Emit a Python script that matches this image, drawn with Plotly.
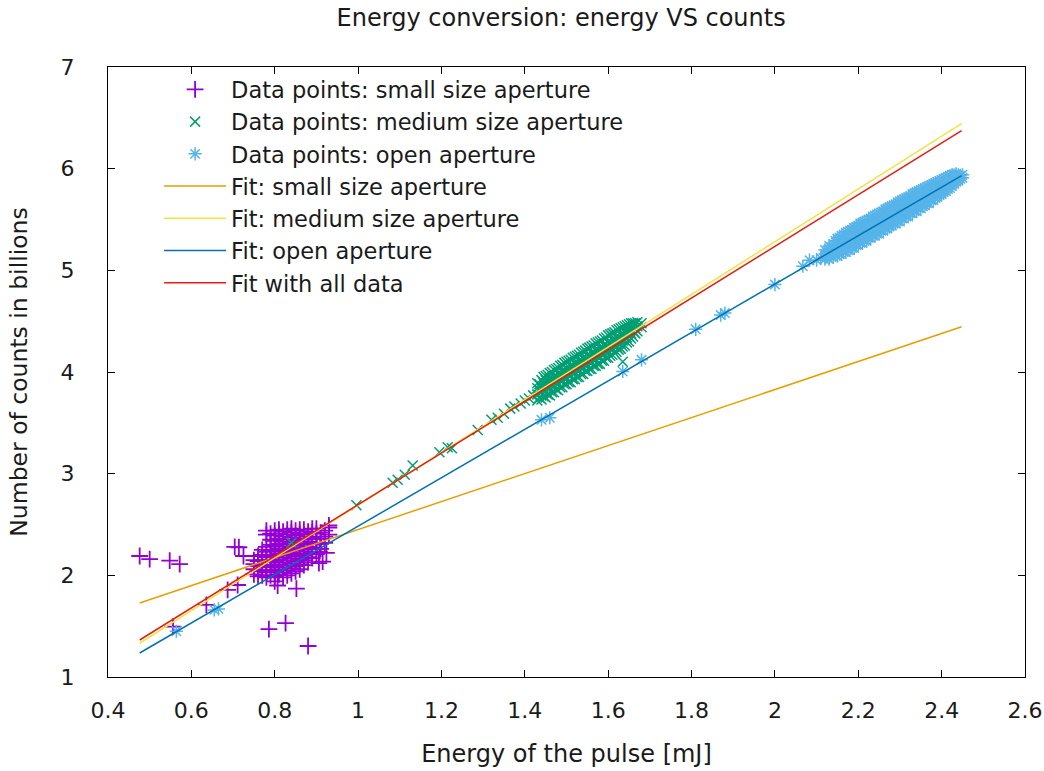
import plotly.graph_objects as go

# ---------------- data ----------------
# small size aperture: scattered points
small_x = [0.476, 0.50, 0.548, 0.572, 0.556, 0.636, 0.687, 0.711, 0.704, 0.714, 0.725,
           0.786, 0.826, 0.88, 0.80, 0.807, 0.852, 0.906, 0.907, 0.915, 0.924, 0.93]
small_y = [2.19, 2.16, 2.145, 2.11, 1.495, 1.71, 1.856, 1.905, 2.28, 2.276, 2.19,
           1.47, 1.53, 1.305, 1.94, 1.90, 1.87, 2.12, 2.23, 2.135, 2.22, 2.49]
# small size aperture: dense cluster, one column of readings per energy value
small_cluster_x = [0.75, 0.76, 0.77, 0.78, 0.79, 0.80, 0.81, 0.82, 0.83, 0.84,
                   0.85, 0.86, 0.87, 0.88, 0.89, 0.90, 0.91, 0.92, 0.93]
small_cluster_y = [
    [2.01, 2.06, 2.11, 2.15],
    [1.99, 2.04, 2.09, 2.14, 2.19],
    [2.00, 2.05, 2.10, 2.15, 2.20, 2.25],
    [1.98, 2.03, 2.08, 2.13, 2.18, 2.23, 2.28, 2.40, 2.44],
    [2.00, 2.05, 2.10, 2.15, 2.20, 2.25, 2.30, 2.35, 2.41],
    [1.99, 2.04, 2.09, 2.14, 2.19, 2.24, 2.29, 2.34, 2.39, 2.44],
    [2.01, 2.06, 2.11, 2.16, 2.21, 2.26, 2.31, 2.36, 2.41, 2.45],
    [1.98, 2.03, 2.08, 2.13, 2.18, 2.23, 2.28, 2.33, 2.38, 2.43],
    [2.00, 2.05, 2.10, 2.15, 2.20, 2.25, 2.30, 2.35, 2.40, 2.45],
    [2.02, 2.07, 2.12, 2.17, 2.22, 2.27, 2.32, 2.37, 2.42, 2.46],
    [2.04, 2.09, 2.14, 2.19, 2.24, 2.29, 2.34, 2.39, 2.44],
    [2.06, 2.11, 2.16, 2.21, 2.26, 2.31, 2.36, 2.41, 2.45],
    [2.10, 2.15, 2.20, 2.25, 2.30, 2.35, 2.40, 2.45],
    [2.13, 2.18, 2.23, 2.28, 2.33, 2.38, 2.43],
    [2.17, 2.22, 2.27, 2.32, 2.37, 2.42, 2.46],
    [2.21, 2.26, 2.31, 2.36, 2.41, 2.46],
    [2.26, 2.31, 2.36, 2.42],
    [2.32, 2.38, 2.44],
    [2.40, 2.47],
]

# medium size aperture
medium_x = [0.84, 0.996, 1.083, 1.095, 1.112, 1.131, 1.195, 1.215, 1.225, 1.287, 1.32,
            1.335, 1.35, 1.365, 1.375, 1.39, 1.40, 1.41, 1.42, 1.635]
medium_y = [2.32, 2.69, 2.91, 2.94, 2.99, 3.08, 3.21, 3.26, 3.25, 3.43, 3.53,
            3.55, 3.59, 3.64, 3.66, 3.69, 3.72, 3.74, 3.77, 4.10]
medium_cluster_x = [1.43, 1.435, 1.44, 1.445, 1.45, 1.455, 1.46, 1.465, 1.47, 1.475,
                    1.48, 1.485, 1.49, 1.495, 1.50, 1.505, 1.51, 1.515, 1.52, 1.525,
                    1.53, 1.535, 1.54, 1.545, 1.55, 1.555, 1.56, 1.565, 1.57, 1.575,
                    1.58, 1.585, 1.59, 1.595, 1.60, 1.605, 1.61, 1.615, 1.62, 1.625,
                    1.63, 1.635, 1.64, 1.645, 1.65, 1.655, 1.66, 1.665, 1.67, 1.68]
medium_cluster_y = [
    [3.72, 3.78, 3.84, 3.89], [3.75, 3.82, 3.88],
    [3.73, 3.80, 3.85, 3.92], [3.76, 3.83, 3.89, 3.95],
    [3.75, 3.81, 3.86, 3.92, 3.96], [3.78, 3.85, 3.90, 3.97],
    [3.77, 3.84, 3.89, 3.94, 3.99], [3.80, 3.87, 3.93, 4.00],
    [3.80, 3.86, 3.91, 3.96, 4.02], [3.83, 3.90, 3.95, 4.03],
    [3.82, 3.88, 3.94, 3.99, 4.04], [3.85, 3.92, 3.97, 4.06],
    [3.85, 3.91, 3.96, 4.01, 4.07], [3.88, 3.94, 4.00, 4.09],
    [3.88, 3.94, 3.99, 4.04, 4.10], [3.90, 3.97, 4.02, 4.11],
    [3.90, 3.96, 4.01, 4.06, 4.12], [3.93, 3.99, 4.05, 4.14],
    [3.93, 3.99, 4.04, 4.09, 4.15], [3.95, 4.02, 4.07, 4.16],
    [3.95, 4.01, 4.06, 4.11, 4.17], [3.98, 4.04, 4.10, 4.19],
    [3.98, 4.04, 4.09, 4.14, 4.20], [4.01, 4.07, 4.12, 4.21],
    [4.01, 4.07, 4.12, 4.17, 4.23], [4.03, 4.10, 4.15, 4.24],
    [4.03, 4.09, 4.14, 4.19, 4.25], [4.06, 4.12, 4.18, 4.26],
    [4.06, 4.12, 4.17, 4.22, 4.28], [4.08, 4.15, 4.20, 4.29],
    [4.08, 4.14, 4.19, 4.24, 4.30], [4.11, 4.17, 4.22, 4.31],
    [4.11, 4.17, 4.22, 4.27, 4.33], [4.14, 4.20, 4.25, 4.34],
    [4.14, 4.20, 4.25, 4.30, 4.36], [4.16, 4.23, 4.28, 4.37],
    [4.17, 4.22, 4.27, 4.32, 4.38], [4.19, 4.25, 4.31, 4.39],
    [4.20, 4.25, 4.30, 4.35, 4.41], [4.22, 4.28, 4.33, 4.42],
    [4.23, 4.28, 4.32, 4.37, 4.43], [4.25, 4.31, 4.36, 4.44],
    [4.26, 4.31, 4.35, 4.40, 4.45], [4.29, 4.34, 4.39, 4.46],
    [4.30, 4.35, 4.39, 4.43, 4.47], [4.33, 4.38, 4.42, 4.48],
    [4.35, 4.40, 4.45, 4.48], [4.38, 4.43, 4.48],
    [4.40, 4.45, 4.49], [4.44, 4.48],
]

# open aperture
open_x = [0.564, 0.655, 0.665, 1.44, 1.46, 1.635, 1.68, 1.81, 1.87, 1.88, 2.00,
          2.067, 2.083, 2.10, 2.11]
open_y = [1.45, 1.66, 1.67, 3.53, 3.55, 4.005, 4.12, 4.42, 4.56, 4.58, 4.86,
          5.04, 5.10, 5.10, 5.12]
open_cluster_x = [2.12, 2.125, 2.13, 2.135, 2.14, 2.145, 2.15, 2.155, 2.16, 2.165,
                  2.17, 2.175, 2.18, 2.185, 2.19, 2.195, 2.20, 2.205, 2.21, 2.215,
                  2.22, 2.225, 2.23, 2.235, 2.24, 2.245, 2.25, 2.255, 2.26, 2.265,
                  2.27, 2.275, 2.28, 2.285, 2.29, 2.295, 2.30, 2.305, 2.31, 2.315,
                  2.32, 2.325, 2.33, 2.335, 2.34, 2.345, 2.35, 2.355, 2.36, 2.365,
                  2.37, 2.375, 2.38, 2.385, 2.39, 2.395, 2.40, 2.405, 2.41, 2.415,
                  2.42, 2.425, 2.43, 2.435, 2.44, 2.445, 2.45]
open_cluster_y = [
    [5.11, 5.16, 5.20], [5.13, 5.18],
    [5.11, 5.16, 5.21, 5.24], [5.14, 5.19, 5.23],
    [5.13, 5.18, 5.23, 5.26], [5.15, 5.20, 5.25, 5.29],
    [5.14, 5.19, 5.24, 5.29, 5.31], [5.16, 5.21, 5.27, 5.32],
    [5.16, 5.21, 5.26, 5.31, 5.34], [5.18, 5.23, 5.28, 5.35],
    [5.18, 5.23, 5.28, 5.33, 5.37], [5.20, 5.25, 5.30, 5.38],
    [5.20, 5.25, 5.30, 5.35, 5.39], [5.22, 5.28, 5.33, 5.40],
    [5.22, 5.27, 5.32, 5.37, 5.42], [5.25, 5.30, 5.35, 5.43],
    [5.25, 5.30, 5.35, 5.40, 5.44], [5.27, 5.32, 5.38, 5.46],
    [5.27, 5.32, 5.37, 5.42, 5.47], [5.29, 5.35, 5.40, 5.48],
    [5.29, 5.34, 5.39, 5.44, 5.49], [5.32, 5.37, 5.42, 5.50],
    [5.32, 5.37, 5.42, 5.47, 5.51], [5.34, 5.39, 5.44, 5.53],
    [5.34, 5.39, 5.44, 5.49, 5.54], [5.36, 5.41, 5.47, 5.55],
    [5.36, 5.41, 5.46, 5.51, 5.56], [5.39, 5.44, 5.49, 5.57],
    [5.39, 5.44, 5.49, 5.54, 5.58], [5.41, 5.46, 5.51, 5.60],
    [5.41, 5.46, 5.51, 5.56, 5.61], [5.43, 5.49, 5.54, 5.62],
    [5.44, 5.48, 5.53, 5.58, 5.63], [5.46, 5.51, 5.56, 5.64],
    [5.46, 5.51, 5.56, 5.61, 5.65], [5.48, 5.53, 5.58, 5.67],
    [5.48, 5.53, 5.58, 5.63, 5.68], [5.51, 5.56, 5.61, 5.69],
    [5.51, 5.56, 5.61, 5.65, 5.70], [5.53, 5.58, 5.63, 5.71],
    [5.53, 5.58, 5.63, 5.68, 5.72], [5.56, 5.61, 5.66, 5.73],
    [5.56, 5.61, 5.65, 5.70, 5.75], [5.58, 5.63, 5.68, 5.76],
    [5.58, 5.63, 5.68, 5.72, 5.77], [5.61, 5.66, 5.70, 5.78],
    [5.61, 5.66, 5.70, 5.75, 5.79], [5.63, 5.68, 5.73, 5.80],
    [5.64, 5.68, 5.73, 5.77, 5.81], [5.66, 5.71, 5.75, 5.82],
    [5.66, 5.71, 5.75, 5.79, 5.83], [5.69, 5.73, 5.78, 5.84],
    [5.69, 5.73, 5.77, 5.81, 5.85], [5.71, 5.76, 5.80, 5.86],
    [5.72, 5.76, 5.80, 5.84, 5.87], [5.74, 5.78, 5.82, 5.88],
    [5.75, 5.78, 5.82, 5.86, 5.89], [5.77, 5.81, 5.85, 5.90],
    [5.78, 5.81, 5.85, 5.88, 5.91], [5.80, 5.84, 5.87, 5.92],
    [5.81, 5.84, 5.88, 5.91, 5.93], [5.83, 5.87, 5.90, 5.94],
    [5.85, 5.88, 5.91, 5.94], [5.87, 5.90, 5.93, 5.95],
    [5.88, 5.91, 5.94], [5.90, 5.93], [5.91, 5.94],
]

# fitted lines (end points of each fit)
fit_x = [0.476, 2.448]
fit_small_y = [1.728, 4.445]
fit_medium_y = [1.332, 6.443]
fit_open_y = [1.236, 5.931]
fit_all_y = [1.364, 6.374]

x_ticks = [0.4, 0.6, 0.8, 1.0, 1.2, 1.4, 1.6, 1.8, 2.0, 2.2, 2.4, 2.6]
x_tick_text = ["0.4", "0.6", "0.8", "1", "1.2", "1.4", "1.6", "1.8", "2", "2.2", "2.4", "2.6"]
y_ticks = [1, 2, 3, 4, 5, 6, 7]


def expand(xs, ys_nested, extra_x, extra_y):
    ox, oy = list(extra_x), list(extra_y)
    for xv, col in zip(xs, ys_nested):
        for yv in col:
            ox.append(xv)
            oy.append(yv)
    return ox, oy


sx, sy = expand(small_cluster_x, small_cluster_y, small_x, small_y)
mx, my = expand(medium_cluster_x, medium_cluster_y, medium_x, medium_y)
ox, oy = expand(open_cluster_x, open_cluster_y, open_x, open_y)

FONT = "DejaVu Sans"
TXT = "#1a1a1a"

fig = go.Figure()

fig.add_trace(go.Scatter(
    x=sx, y=sy, mode="markers", name="Data points: small size aperture",
    marker=dict(symbol="cross-thin", size=12, color="#9400D3",
                line=dict(color="#9400D3", width=1.8))))
fig.add_trace(go.Scatter(
    x=mx, y=my, mode="markers", name="Data points: medium size aperture",
    marker=dict(symbol="x-thin", size=10, color="#009E73",
                line=dict(color="#009E73", width=1.5))))
fig.add_trace(go.Scatter(
    x=ox, y=oy, mode="markers", name="Data points: open aperture",
    marker=dict(symbol="asterisk", size=11, color="#56B4E9",
                line=dict(color="#56B4E9", width=1.5))))

fig.add_trace(go.Scatter(x=fit_x, y=fit_small_y, mode="lines", name="Fit: small size aperture",
                         line=dict(color="#E69F00", width=1.5)))
fig.add_trace(go.Scatter(x=fit_x, y=fit_medium_y, mode="lines", name="Fit: medium size aperture",
                         line=dict(color="#F0E442", width=1.5)))
fig.add_trace(go.Scatter(x=fit_x, y=fit_open_y, mode="lines", name="Fit: open aperture",
                         line=dict(color="#0072B2", width=1.5)))
fig.add_trace(go.Scatter(x=fit_x, y=fit_all_y, mode="lines", name="Fit with all data",
                         line=dict(color="#E51E10", width=1.5)))

axis_common = dict(showline=True, linecolor="black", linewidth=1, mirror="ticks",
                   ticks="inside", ticklen=7, tickcolor="black", showgrid=False,
                   zeroline=False, automargin=False,
                   tickfont=dict(family=FONT, size=22, color=TXT))

fig.update_layout(
    width=1044, height=771,
    margin=dict(l=108, r=19, t=67, b=94),
    paper_bgcolor="white", plot_bgcolor="white",
    font=dict(family=FONT, color=TXT),
    title=dict(text="Energy conversion: energy VS counts", x=0.5375, xanchor="center",
               y=0.977, yanchor="middle", font=dict(family=FONT, size=24, color=TXT)),
    xaxis=dict(range=[0.4, 2.6], tickvals=x_ticks, ticktext=x_tick_text,
               ticklabelstandoff=14,
               title=dict(text="Energy of the pulse [mJ]", standoff=22,
                          font=dict(family=FONT, size=24, color=TXT)),
               **axis_common),
    yaxis=dict(range=[1, 7], tickvals=y_ticks, ticklabelstandoff=28,
               title=dict(text="Number of counts in billions", standoff=26,
                          font=dict(family=FONT, size=23.5, color=TXT)),
               **axis_common),
    legend=dict(x=0.0557, y=0.998, xanchor="left", yanchor="top",
                bgcolor="rgba(0,0,0,0)", borderwidth=0, itemwidth=62,
                font=dict(family=FONT, size=22.5, color=TXT), tracegroupgap=0),
    showlegend=True,
)

fig.write_html("out.html")
